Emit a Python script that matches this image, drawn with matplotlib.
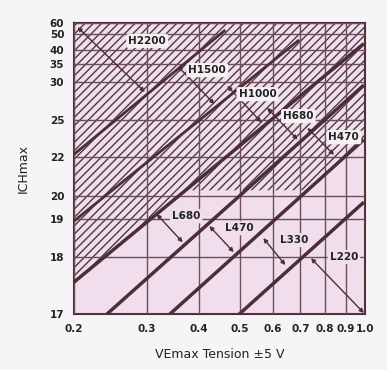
import numpy as np
import matplotlib.pyplot as plt

# axis ticks
x_ticks = [0.2, 0.3, 0.4, 0.5, 0.6, 0.7, 0.8, 0.9, 1.0]
x_labels = ["0.2", "0.3", "0.4", "0.5", "0.6", "0.7", "0.8", "0.9", "1.0"]
y_ticks = [17, 18, 19, 20, 22, 25, 30, 35, 40, 50, 60]
# where each ICHmax value sits on the printed (non linear) axis, 0 = bottom, 1 = top
y_pos = [0, 0.196, 0.326, 0.405, 0.540, 0.667, 0.797, 0.859, 0.907, 0.962, 1.0]

# thick band limits, V and I at both ends
line_v = [[0.200, 0.462], [0.200, 0.695], [0.200, 0.994],
          [0.240, 0.994], [0.340, 0.994], [0.499, 0.994]]
line_i = [[22.2, 53.6], [18.95, 46.3], [17.56, 44.0],
          [17.0, 29.6], [17.0, 23.4], [17.0, 19.74]]

# hatched zone (H range)
hatch_v = [0.2, 1.0, 1.0, 0.731, 0.371, 0.2]
hatch_i = [60, 60, 23.4, 20.3, 20.3, 17.56]

# band names, where they are written, and their arrows
names = ["H2200", "H1500", "H1000", "H680", "H470", "L680", "L470", "L330", "L220"]
name_v = [0.300, 0.418, 0.552, 0.692, 0.890, 0.372, 0.499, 0.676, 0.890]
name_i = [45.7, 33.3, 28.4, 25.5, 23.6, 19.13, 18.76, 18.45, 18.0]
arrow_v0 = [0.204, 0.355, 0.467, 0.582, 0.727, 0.316, 0.423, 0.570, 0.742]
arrow_i0 = [56.2, 34.4, 29.5, 26.6, 24.35, 19.22, 18.82, 18.50, 17.98]
arrow_v1 = [0.296, 0.435, 0.564, 0.689, 0.843, 0.365, 0.484, 0.644, 0.994]
arrow_i1 = [28.7, 27.1, 24.8, 23.4, 22.16, 18.39, 18.13, 17.86, 17.02]

ink = "#4e2e36"
pink = "#f0deec"


def fwd(y):
    return np.interp(y, y_ticks, y_pos)


def inv(f):
    return np.interp(f, y_pos, y_ticks)


plt.rcParams["hatch.linewidth"] = 1.0
fig = plt.figure(figsize=(3.87, 3.70), dpi=100, facecolor="#f6f4f6")
ax = fig.add_axes([0.191, 0.151, 0.752, 0.787])
ax.set_facecolor(pink)
ax.set_xscale("log")
ax.set_yscale("function", functions=(fwd, inv))
ax.set_xlim(0.2, 1.0)
ax.set_ylim(17, 60)

ax.set_xticks(x_ticks)
ax.set_xticklabels(x_labels)
ax.xaxis.set_minor_locator(plt.NullLocator())
ax.set_yticks(y_ticks)
ax.set_yticklabels([str(v) for v in y_ticks])
ax.yaxis.set_minor_locator(plt.NullLocator())
ax.tick_params(length=0, pad=7, labelsize=7.5, colors="#222222")
for lab in ax.get_xticklabels() + ax.get_yticklabels():
    lab.set_fontweight("bold")
ax.grid(True, color="#6e4e5a", linewidth=1.0)
ax.set_axisbelow(False)

ax.fill(hatch_v, hatch_i, facecolor="none", edgecolor="#4a3a42",
        hatch="////", linewidth=0, zorder=1)

for k, (lv, li) in enumerate(zip(line_v, line_i)):
    w = 2.0 if k < 2 else 2.5
    ax.plot(lv, li, color=ink, linewidth=w, solid_capstyle="butt", zorder=4)

for k, name in enumerate(names):
    ax.annotate("", xy=(arrow_v1[k], arrow_i1[k]), xytext=(arrow_v0[k], arrow_i0[k]),
                arrowprops=dict(arrowstyle="<|-|>", color=ink, lw=1.0,
                                mutation_scale=6, shrinkA=0, shrinkB=0),
                zorder=5)
    box = "#f6f0f4" if name.startswith("H") else pink
    ax.text(name_v[k], name_i[k], name, ha="center", va="center", fontsize=7.5,
            fontweight="bold", color="#222222", zorder=6,
            bbox=dict(boxstyle="round,pad=0.2", fc=box, ec="none"))

for s in ax.spines.values():
    s.set_color(ink)
    s.set_linewidth(1.5)

ax.set_xlabel("VEmax Tension \u00b15 V", fontsize=9, labelpad=10, color="#222222")
ax.set_ylabel("ICHmax", fontsize=9, labelpad=14, color="#222222")

fig.savefig("out.png", dpi=100, facecolor=fig.get_facecolor())
